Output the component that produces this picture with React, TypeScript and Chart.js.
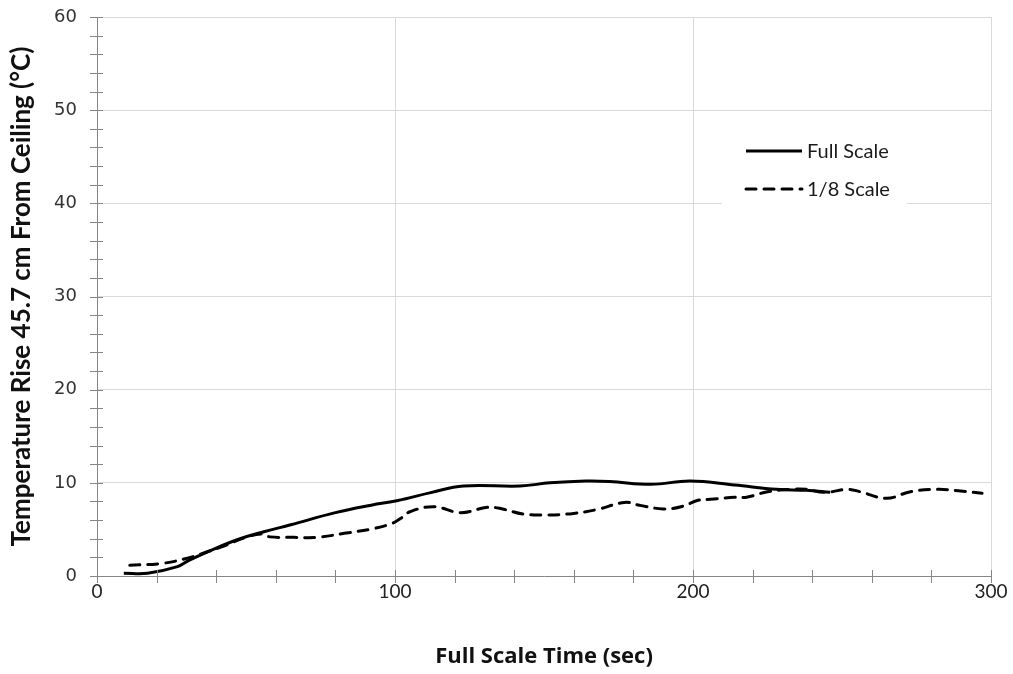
import React, { useEffect, useRef } from "react";
import { Chart, registerables } from "chart.js";

Chart.register(...registerables);

const fullTime = [9, 17, 27, 31, 40, 48, 56, 65, 80, 92, 101, 112, 123, 142, 152, 164, 172, 186, 199, 214, 228, 238, 246];
const fullTemp = [0.3, 0.3, 1.0, 1.7, 3.0, 4.0, 4.75, 5.5, 6.8, 7.6, 8.1, 8.95, 9.66, 9.66, 10.0, 10.2, 10.15, 9.84, 10.2, 9.77, 9.3, 9.2, 9.0];

const scaleTime = [11, 22, 31, 37, 42, 50, 55, 58, 66, 74, 83, 93, 99, 102, 105, 113, 122, 131, 136, 143, 151, 160, 168, 177, 182, 190, 196, 202, 206, 214, 218, 225, 233, 238, 244, 252, 256, 265, 273, 282, 289, 297];
const scaleTemp = [1.15, 1.36, 1.97, 2.6, 3.15, 4.15, 4.5, 4.2, 4.15, 4.15, 4.58, 5.1, 5.65, 6.2, 6.9, 7.44, 6.8, 7.37, 7.2, 6.65, 6.55, 6.72, 7.15, 7.9, 7.6, 7.2, 7.44, 8.15, 8.23, 8.45, 8.45, 9.05, 9.3, 9.3, 8.98, 9.3, 9.05, 8.34, 9.05, 9.3, 9.15, 8.87];

const seriesNames = ["Full Scale", "1/8 Scale"];
const xTitle = "Full Scale Time (sec)";
const yTitle = "Temperature Rise 45.7 cm From Ceiling (\u00B0C)";

const FONT = "Lato, 'Open Sans', sans-serif";
const YFONT = "'DejaVu Sans', Verdana, sans-serif";
const XTFONT = "'Open Sans', sans-serif";
const DASH = [10, 8];

const minorTicks = {
  id: "minorTicks",
  afterDraw(chart: any) {
    const ctx = chart.ctx;
    const xs = chart.scales.x;
    const ys = chart.scales.y;
    const ca = chart.chartArea;
    ctx.save();
    ctx.strokeStyle = "#868686";
    ctx.lineWidth = 1;
    ctx.beginPath();
    for (let v = 0; v <= 300; v += 20) {
      const px = Math.round(xs.getPixelForValue(v)) + 0.5;
      ctx.moveTo(px, ca.bottom - 6);
      ctx.lineTo(px, ca.bottom + 7);
    }
    for (let v = 0; v <= 60; v += 2) {
      const py = Math.round(ys.getPixelForValue(v)) + 0.5;
      ctx.moveTo(ca.left - 7, py);
      ctx.lineTo(ca.left + 6, py);
    }
    ctx.stroke();
    ctx.restore();
  },
};

const customLegend = {
  id: "customLegend",
  afterDatasetsDraw(chart: any) {
    const ctx = chart.ctx;
    const ca = chart.chartArea;
    const bx = ca.left + 625;
    const by = ca.top + 113;
    ctx.save();
    ctx.fillStyle = "#ffffff";
    ctx.fillRect(bx, by, 185, 76);
    const rows = [
      { y: by + 21, dash: [] as number[] },
      { y: by + 59, dash: DASH },
    ];
    rows.forEach((r, i) => {
      ctx.strokeStyle = "#000000";
      ctx.lineWidth = 3;
      ctx.lineCap = i === 1 ? "round" : "butt";
      ctx.setLineDash(r.dash);
      ctx.beginPath();
      ctx.moveTo(bx + 24, r.y);
      ctx.lineTo(bx + 80, r.y);
      ctx.stroke();
      ctx.setLineDash([]);
      ctx.fillStyle = "#1a1a1a";
      ctx.font = "20px " + FONT;
      ctx.textBaseline = "middle";
      ctx.textAlign = "left";
      ctx.fillText(seriesNames[i], bx + 85, r.y + 1);
    });
    ctx.restore();
  },
};

export default function App() {
  const ref = useRef<HTMLCanvasElement | null>(null);
  useEffect(() => {
    if (!ref.current) return;
    const full = fullTime.map((t, i) => ({ x: t, y: fullTemp[i] }));
    const small = scaleTime.map((t, i) => ({ x: t, y: scaleTemp[i] }));
    const chart = new Chart(ref.current, {
      type: "scatter",
      data: {
        datasets: [
          {
            label: seriesNames[0],
            data: full,
            showLine: true,
            borderColor: "#000000",
            backgroundColor: "#000000",
            borderWidth: 3,
            pointRadius: 0,
            tension: 0.4,
          },
          {
            label: seriesNames[1],
            data: small,
            showLine: true,
            borderColor: "#000000",
            backgroundColor: "#000000",
            borderWidth: 3,
            borderDash: DASH,
            borderCapStyle: "round",
            pointRadius: 0,
            tension: 0.4,
          },
        ],
      },
      options: {
        responsive: false,
        animation: false,
        layout: { padding: { top: 17, right: 22, left: 0, bottom: 0 } },
        plugins: {
          legend: { display: false },
          tooltip: { enabled: false },
        },
        scales: {
          x: {
            type: "linear",
            min: 0,
            max: 300,
            ticks: { stepSize: 100, color: "#222", font: { family: FONT, size: 19 }, padding: 4, maxRotation: 0 },
            grid: { color: "#d9d9d9", drawTicks: false, lineWidth: 1 },
            border: { color: "#868686" },
            title: { display: true, text: xTitle, color: "#111", font: { family: XTFONT, size: 22, weight: "bold" }, padding: { top: 26 } },
            afterFit(scale: any) {
              scale.height = 98;
              scale.paddingLeft = 0;
              scale.paddingRight = 0;
            },
          },
          y: {
            min: 0,
            max: 60,
            ticks: { stepSize: 10, color: "#333", font: { family: YFONT, size: 18 }, padding: 20 },
            grid: { color: "#d9d9d9", drawTicks: false, lineWidth: 1 },
            border: { color: "#868686" },
            title: { display: true, text: yTitle, color: "#111", font: { family: FONT, size: 26, weight: "bold" }, padding: { top: 6, bottom: 4 } },
            afterFit(scale: any) {
              scale.width = 97;
              scale.paddingTop = 0;
              scale.paddingBottom = 0;
            },
          },
        },
      },
      plugins: [minorTicks, customLegend],
    });
    return () => chart.destroy();
  }, []);
  return (
    <div style={{ position: "fixed", left: 0, top: 0, width: 1013, height: 674, background: "#fff" }}>
      <canvas ref={ref} width={1013} height={674} style={{ display: "block" }} />
    </div>
  );
}
